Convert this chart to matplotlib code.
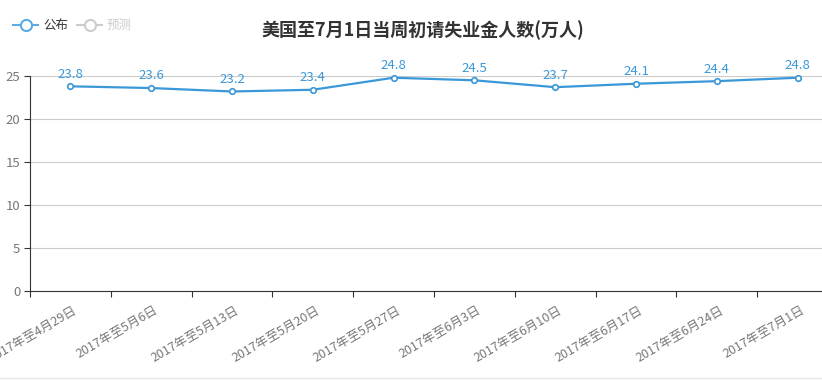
import matplotlib
matplotlib.use("Agg")
import matplotlib.pyplot as plt
from matplotlib.lines import Line2D

plt.rcParams['font.family'] = ['Noto Sans CJK SC', 'DejaVu Sans']

categories = ["2017年至4月29日", "2017年至5月6日", "2017年至5月13日", "2017年至5月20日",
              "2017年至5月27日", "2017年至6月3日", "2017年至6月10日", "2017年至6月17日",
              "2017年至6月24日", "2017年至7月1日"]
published = [23.8, 23.6, 23.2, 23.4, 24.8, 24.5, 23.7, 24.1, 24.4, 24.8]
y_ticks = [0, 5, 10, 15, 20, 25]
title = "美国至7月1日当周初请失业金人数(万人)"

W, H = 822, 380
fig = plt.figure(figsize=(W / 100, H / 100), dpi=100)
blue = '#3a98d8'

left_px, bottom_px, top_px = 30, 380 - 291, 380 - 76
band = 80.8
right_px = 822
ax = fig.add_axes([left_px / W, bottom_px / H, (right_px - left_px) / W, (top_px - bottom_px) / H])
ax.set_xlim(-0.5, -0.5 + (right_px - left_px) / band)
ax.set_ylim(0, 25)

x = list(range(len(categories)))
ax.plot(x, published, color=blue, lw=1.6, marker='o', ms=4, mfc='white', mec=blue, mew=1.2, zorder=3, clip_on=False)
for xi, v in zip(x, published):
    ax.annotate(f"{v}", (xi, v), xytext=(0, 4), textcoords='offset points', ha='center', va='bottom',
                color=blue, fontsize=9.5)

ax.set_yticks(y_ticks)
ax.set_yticklabels([str(t) for t in y_ticks], color='#777777', fontsize=9.5)
ax.yaxis.grid(True, color='#cccccc', lw=0.8)
ax.set_axisbelow(True)
ax.tick_params(axis='y', length=4, color='#333333', pad=3)

ax.set_xticks([i - 0.5 for i in range(len(categories))])
ax.set_xticklabels([])
ax.tick_params(axis='x', length=4, color='#333333', direction='out')
for xi, c in zip(x, categories):
    ax.text(xi + 0.03, -1.5, c, rotation=30, ha='right', va='top', rotation_mode='anchor',
            color='#777777', fontsize=9)

for s in ['top', 'right']:
    ax.spines[s].set_visible(False)
ax.spines['left'].set_color('#333333')
ax.spines['bottom'].set_color('#333333')

fig.text(423 / W, 1 - 30 / H, title, ha='center', va='center', fontsize=13, fontweight='bold', color='#333333')

def leg_item(x0, color, label, tcolor):
    y = 1 - 25 / H
    fig.add_artist(Line2D([x0 / W, (x0 + 25) / W], [y, y], color=color, lw=1.5))
    fig.add_artist(Line2D([(x0 + 12.5) / W], [y], marker='o', ms=8, mfc='white', mec=color, mew=1.5, color=color))
    fig.text((x0 + 30) / W, y, label, ha='left', va='center', fontsize=9, color=tcolor)

leg_item(13, '#5aaae6', '公布', '#333333')
leg_item(77, '#cccccc', '预测', '#cccccc')

fig.add_artist(Line2D([0, 1], [1 - 377.5 / H, 1 - 377.5 / H], color='#e8e8e8', lw=1))

fig.savefig('out.png', dpi=100, facecolor='white')
